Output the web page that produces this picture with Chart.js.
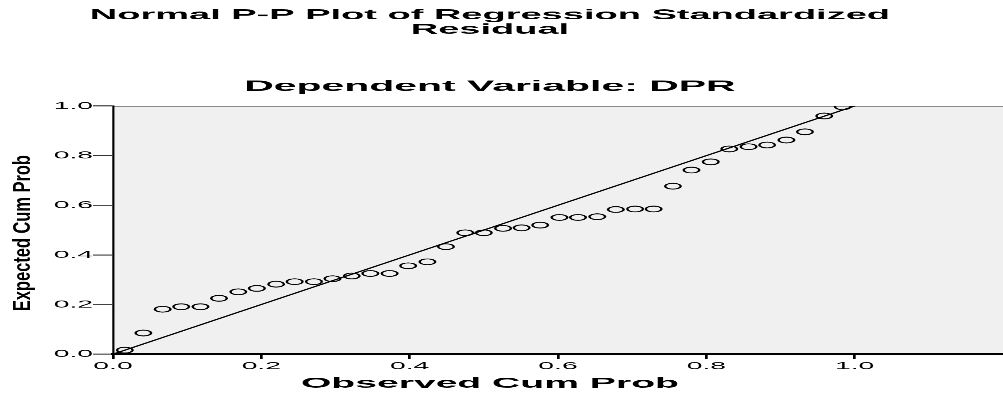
<!DOCTYPE html>
<html>
<head>
<meta charset="utf-8">
<script src="https://cdn.jsdelivr.net/npm/chart.js@4"></script>
<style>
  html, body { margin: 0; padding: 0; background: #fff; overflow: hidden; }
  /* the original picture is stretched sideways, so draw narrow and stretch */
  #chart { position: absolute; left: 0; top: 0; transform: scaleX(2.6962); transform-origin: 0 0; }
</style>
</head>
<body>
<canvas id="chart" width="372" height="394"></canvas>
<script>
const observedCum = [0.016, 0.041, 0.067, 0.092, 0.118, 0.143, 0.169, 0.194, 0.220, 0.245,
  0.271, 0.296, 0.322, 0.347, 0.373, 0.398, 0.424, 0.449, 0.475, 0.500,
  0.526, 0.551, 0.576, 0.602, 0.627, 0.653, 0.678, 0.704, 0.729, 0.755,
  0.780, 0.806, 0.831, 0.857, 0.882, 0.908, 0.933, 0.959, 0.984];
const expectedCum = [0.016, 0.085, 0.181, 0.191, 0.191, 0.225, 0.251, 0.265, 0.282, 0.292,
  0.292, 0.304, 0.315, 0.325, 0.325, 0.356, 0.372, 0.433, 0.489, 0.489,
  0.507, 0.509, 0.520, 0.551, 0.551, 0.554, 0.583, 0.585, 0.585, 0.677,
  0.742, 0.775, 0.827, 0.836, 0.843, 0.863, 0.896, 0.960, 0.997];
const refLineX = [0, 1];
const refLineY = [0, 1];
const xTicks = [0, 0.2, 0.4, 0.6, 0.8, 1.0];

const titleLines = ['Normal P-P Plot of Regression Standardized', 'Residual'];
const subTitle = 'Dependent Variable: DPR';
const xTitle = 'Observed Cum Prob';
const yTitle = 'Expected Cum Prob';

const FONT = '"Liberation Sans", Arial, sans-serif';
Chart.defaults.font.family = FONT;
Chart.defaults.color = '#000';

const backdrop = {
  id: 'backdrop',
  beforeDraw(chart) {
    const { ctx, chartArea: a } = chart;
    ctx.save();
    ctx.fillStyle = '#f0f0f0';
    ctx.fillRect(a.left, a.top, a.right - a.left, a.bottom - a.top);
    ctx.strokeStyle = '#8a8a8a';
    ctx.lineWidth = 1;
    ctx.beginPath();
    ctx.moveTo(a.left, a.top + 0.5);
    ctx.lineTo(a.right, a.top + 0.5);
    ctx.stroke();
    ctx.restore();
  },
  afterDraw(chart) {
    const ctx = chart.ctx;
    const cx = 181.7;
    ctx.save();
    ctx.fillStyle = '#000';
    ctx.textAlign = 'center';
    ctx.textBaseline = 'middle';
    ctx.font = 'bold 14.1px ' + FONT;
    ctx.fillText(titleLines[0], cx, 15.5);
    ctx.fillText(titleLines[1], cx, 30);
    ctx.font = 'bold 15.2px ' + FONT;
    ctx.fillText(subTitle, cx, 86.5);
    ctx.font = 'bold 14.5px ' + FONT;
    ctx.fillText(xTitle, cx, 383.5);

    // y title: narrow, tall lettering
    ctx.translate(8.6, 233);
    ctx.rotate(-Math.PI / 2);
    ctx.font = 'bold 8.6px ' + FONT;
    const w = ctx.measureText(yTitle).width;
    ctx.scale(156 / w, 1);
    ctx.fillText(yTitle, 0, 0);
    ctx.restore();
  }
};

new Chart(document.getElementById('chart'), {
  type: 'scatter',
  data: {
    datasets: [
      {
        label: 'cases',
        data: observedCum.map((x, i) => ({ x, y: expectedCum[i] })),
        pointStyle: 'circle',
        pointRadius: 2.9,
        pointHoverRadius: 2.9,
        pointBorderWidth: 0.9,
        pointBorderColor: '#000',
        pointBackgroundColor: 'rgba(0,0,0,0)',
        clip: 0
      },
      {
        label: 'diagonal',
        data: refLineX.map((x, i) => ({ x, y: refLineY[i] })),
        showLine: true,
        borderColor: '#000',
        borderWidth: 1,
        pointRadius: 0
      }
    ]
  },
  options: {
    responsive: false,
    devicePixelRatio: 2.6962,
    animation: false,
    events: [],
    layout: { autoPadding: false, padding: { top: 106, left: 0, right: 0, bottom: 0 } },
    plugins: { legend: { display: false }, tooltip: { enabled: false } },
    scales: {
      x: {
        type: 'linear',
        min: 0,
        max: 1.2,
        afterBuildTicks(s) { s.ticks = xTicks.map(v => ({ value: v })); },
        ticks: { callback: v => v.toFixed(1), font: { size: 10.5 }, color: '#000', padding: 1, maxRotation: 0, autoSkip: false },
        grid: { drawOnChartArea: false, tickLength: 5, tickColor: '#000', tickWidth: 1 },
        border: { color: '#000', width: 1.5 },
        afterFit(s) { s.height = 40; }
      },
      y: {
        min: 0,
        max: 1,
        ticks: { stepSize: 0.2, callback: v => v.toFixed(1), font: { size: 10.5 }, color: '#000', padding: 0 },
        grid: { drawOnChartArea: false, tickLength: 7.4, tickColor: '#333', tickWidth: 1 },
        border: { color: '#000', width: 0.8 },
        afterFit(s) { s.width = 41.9; }
      }
    }
  },
  plugins: [backdrop]
});
</script>
</body>
</html>
